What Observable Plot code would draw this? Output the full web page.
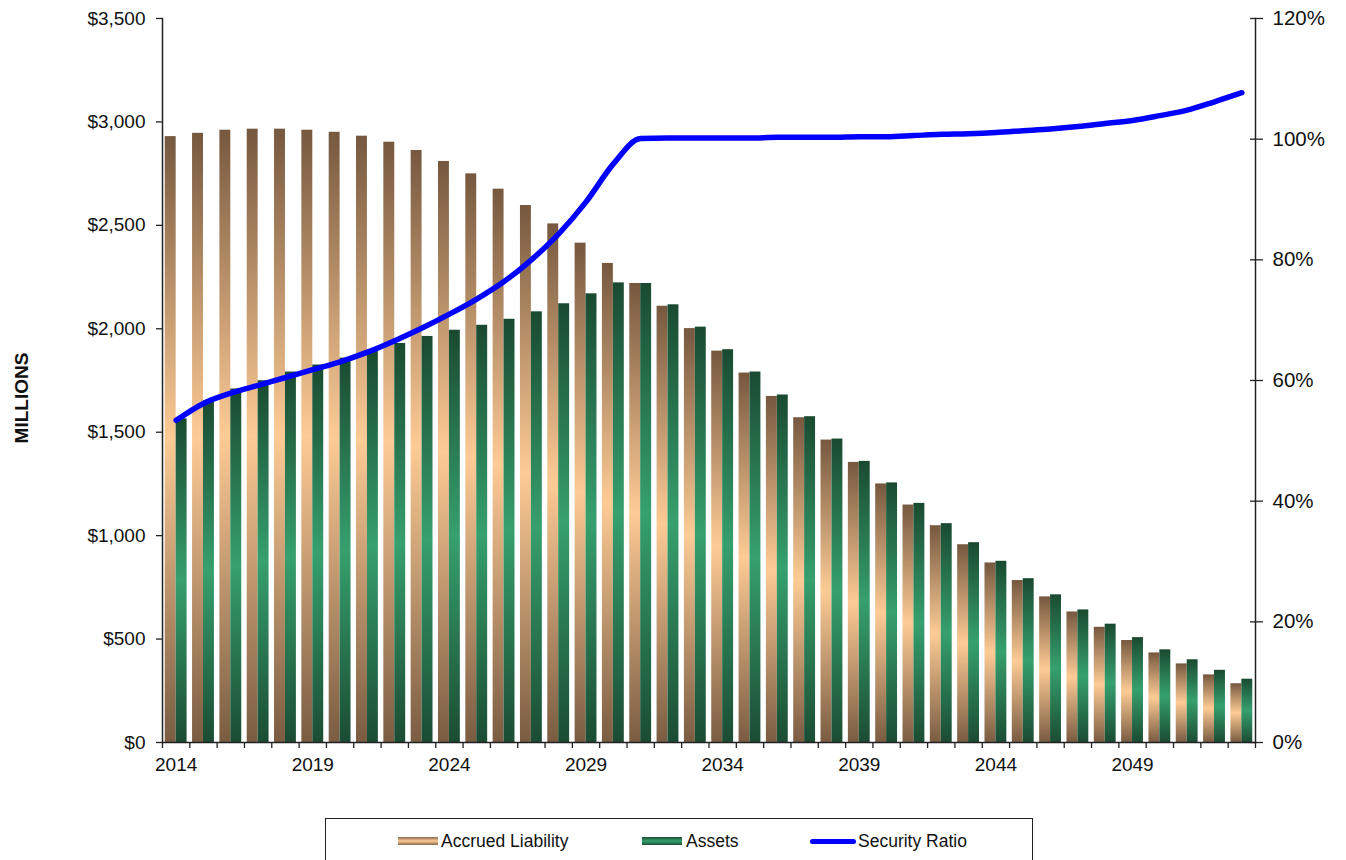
<!DOCTYPE html>
<html><head><meta charset="utf-8">
<script src="https://cdn.jsdelivr.net/npm/d3@7"></script>
<script src="https://cdn.jsdelivr.net/npm/@observablehq/plot@0.6"></script>
<style>
body{margin:0;background:#fff;font-family:"Liberation Sans",Arial,sans-serif;}
#wrap{position:relative;width:1346px;height:860px;overflow:hidden;background:#fff}
#ylabel{position:absolute;left:22px;top:398px;transform:translate(-50%,-50%) rotate(-90deg);font-weight:bold;font-size:19px;color:#111;white-space:nowrap}
#legend{position:absolute;left:325px;top:818px;width:708px;height:60px;border:1px solid #222;box-sizing:border-box;background:#fff}
#legend .sw{position:absolute;top:18px;width:40px;height:8px}
#legend .tx{position:absolute;top:11px;font-size:17.5px;line-height:22px;color:#111;white-space:nowrap}
</style></head><body><div id="wrap"><div id="chart"></div><div id="ylabel">MILLIONS</div>
<div id="legend">
<div class="sw" style="left:72px;background:linear-gradient(#8a6a4e,#fdcb95 50%,#8a6a4e)"></div><div class="tx" style="left:115px">Accrued Liability</div>
<div class="sw" style="left:316px;background:linear-gradient(#1c4e34,#36a06e 50%,#1c4e34)"></div><div class="tx" style="left:360px">Assets</div>
<div class="sw" style="left:484px;top:20px;width:46px;height:5px;border-radius:3px;background:#0000ff"></div><div class="tx" style="left:532px">Security Ratio</div>
</div></div>
<script>
const years = [2014,2015,2016,2017,2018,2019,2020,2021,2022,2023,2024,2025,2026,2027,2028,2029,2030,2031,2032,2033,2034,2035,2036,2037,2038,2039,2040,2041,2042,2043,2044,2045,2046,2047,2048,2049,2050,2051,2052,2053];
const liability = [2929,2945,2960,2965,2965,2960,2950,2931,2902,2862,2809,2749,2675,2596,2507,2414,2316,2219,2109,2001,1892,1786,1673,1570,1462,1354,1250,1148,1048,956,868,783,704,631,557,493,433,380,327,284];
const assets = [1565,1652,1709,1749,1791,1825,1858,1894,1929,1963,1993,2017,2046,2082,2121,2169,2222,2219,2116,2008,1899,1791,1680,1575,1467,1359,1255,1156,1058,966,876,792,714,641,572,507,448,400,349,306];
const ratio = [53.4,56.2,57.9,59.2,60.5,61.8,63.1,64.7,66.6,68.7,71.0,73.5,76.4,80.0,84.3,89.6,95.9,100.1,100.2,100.2,100.2,100.2,100.3,100.3,100.3,100.4,100.4,100.6,100.8,100.9,101.1,101.4,101.7,102.1,102.6,103.1,103.9,104.8,106.2,107.7];
const yTicks = [0,500,1000,1500,2000,2500,3000,3500];
const pctTicks = [0,20,40,60,80,100,120];
const xLabelYears = [2014,2019,2024,2029,2034,2039,2044,2049];
const yMax = 3500, pctMax = 120;

const data = years.map((year,i)=>({year, liability: liability[i], assets: assets[i], ratio: ratio[i]}));

const W = 1346, H = 800, mL = 162, mR = 91, mT = 18, mB = 58;
const bw = (W - mL - mR) / years.length;
const pctToY = p => p * yMax / pctMax;

const chart = Plot.plot({
  width: W, height: H,
  marginLeft: mL, marginRight: mR, marginTop: mT, marginBottom: mB,
  style: {fontFamily: '"Liberation Sans", Arial, sans-serif', color: "#111", background: "#fff"},
  x: {type: "band", domain: years, padding: 0, round: false},
  y: {domain: [0, yMax]},
  marks: [
    Plot.barY(data, {x: "year", y: "liability", fill: "url(#gLiab)", insetLeft: bw*0.1, insetRight: bw*0.5}),
    Plot.barY(data, {x: "year", y: "assets", fill: "url(#gAss)", insetLeft: bw*0.5, insetRight: bw*0.1}),
    Plot.line(data, {x: "year", y: d => pctToY(d.ratio), stroke: "#0000ff", strokeWidth: 5.5, curve: "monotone-x", strokeLinejoin: "round", strokeLinecap: "round"}),
    Plot.frame({anchor: "left", stroke: "#222", strokeWidth: 1.5}),
    Plot.frame({anchor: "right", stroke: "#222", strokeWidth: 1.5}),
    Plot.frame({anchor: "bottom", stroke: "#222", strokeWidth: 1.5}),
    Plot.axisY({ticks: yTicks, tickSize: 6, tickPadding: 11, fontSize: 19, label: null, stroke: "#222", strokeWidth: 1.3,
      tickFormat: d => "$" + d3.format(",")(d)}),
    Plot.axisY({ticks: pctTicks.map(pctToY), anchor: "right", tickSize: 13, dx: -6, tickFormat: () => "", label: null, stroke: "#222", strokeWidth: 1.3}),
    Plot.axisY({ticks: pctTicks.map(pctToY), anchor: "right", tickSize: 0, tickPadding: 17, fontSize: 20.5, label: null,
      tickFormat: d => Math.round(d * pctMax / yMax) + "%"}),
    Plot.axisX({ticks: years, tickSize: 6, tickFormat: () => "", dx: -bw/2, label: null, stroke: "#222", strokeWidth: 1.3}),
    Plot.axisX({ticks: [years[years.length-1]], tickSize: 6, tickFormat: () => "", dx: bw/2, label: null, stroke: "#222", strokeWidth: 1.3}),
    Plot.axisX({ticks: xLabelYears, tickSize: 0, tickPadding: 15, fontSize: 19, label: null, tickFormat: d => String(d)})
  ]
});

const svg = d3.select(chart.tagName.toLowerCase() === "svg" ? chart : chart.querySelector("svg"));
const defs = svg.insert("defs", ":first-child");
function grad(id, dark, light, dark2) {
  const g = defs.append("linearGradient").attr("id", id).attr("x1", 0).attr("y1", 0).attr("x2", 0).attr("y2", 1);
  g.append("stop").attr("offset", "0%").attr("stop-color", dark);
  g.append("stop").attr("offset", "50%").attr("stop-color", light);
  g.append("stop").attr("offset", "100%").attr("stop-color", dark2);
}
grad("gLiab", "#76583f", "#fdcb95", "#7a5c42");
grad("gAss", "#1a4a31", "#36a06e", "#1b4c33");
document.getElementById("chart").appendChild(chart);
</script></body></html>
